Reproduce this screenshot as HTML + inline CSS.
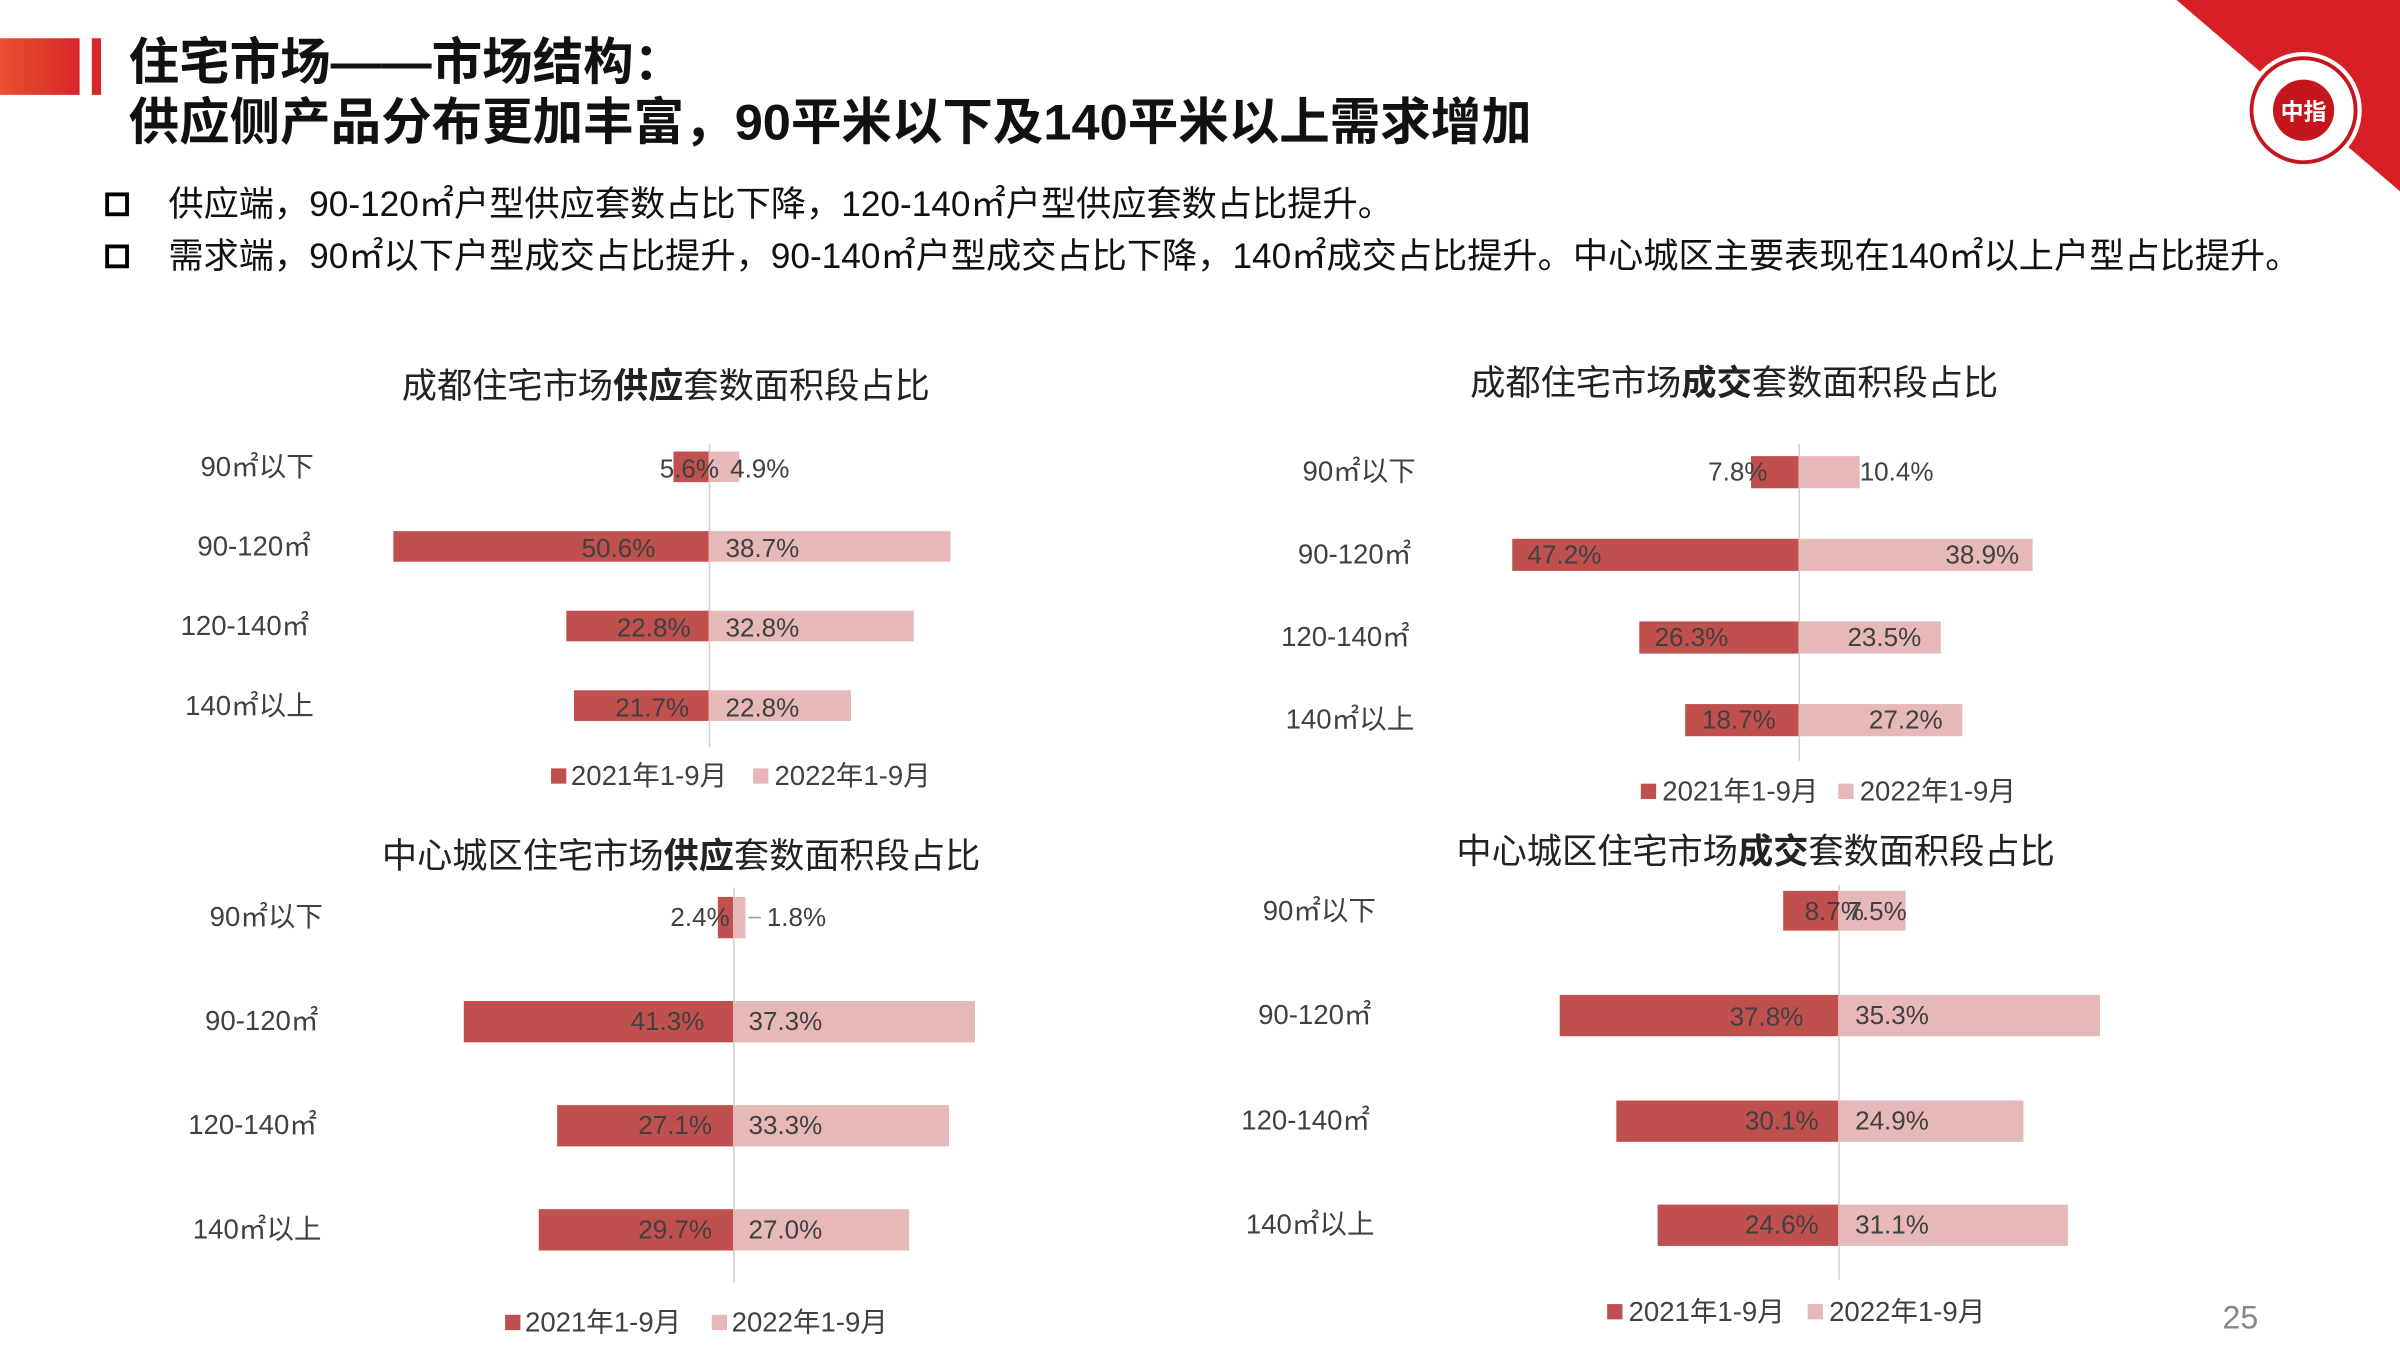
<!DOCTYPE html>
<html><head><meta charset="utf-8"><style>
html,body{margin:0;padding:0;background:#fff;width:2400px;height:1350px;overflow:hidden}
#s{position:absolute;left:0;top:0;width:1568px;height:882px;transform:scale(1.53061);transform-origin:0 0;font-family:"Liberation Sans","Noto Sans CJK SC",sans-serif;color:#404040}
#s div{position:absolute;white-space:nowrap}
.d{background:#c0504d}.l{background:#e6b9b8}
.t{font-size:17px;line-height:24px;color:#404040}
.c{font-size:18px;line-height:24px;color:#404040;text-align:center;width:120px}
.h{font-size:23px;color:#222;text-align:center;width:500px;line-height:30px}
.ax{width:1px;background:#d0d0d0}
.sq{width:10px;height:10px}
</style></head><body><div id="s">
<svg style="position:absolute;left:0;top:0" width="1568" height="882">
<defs><linearGradient id="g" x1="0" x2="1"><stop offset="0" stop-color="#e8502e"/><stop offset="1" stop-color="#d7262a"/></linearGradient></defs>
<rect x="0" y="25" width="52" height="37" fill="url(#g)"/>
<rect x="60" y="25" width="6" height="37" fill="#d7262a"/>
<polygon points="1422,0 1568,0 1568,125" fill="#d91f26"/>
<circle cx="1505" cy="72" r="38" fill="#fff"/>
<circle cx="1505" cy="72" r="34" fill="none" stroke="#c4161c" stroke-width="2.5"/>
<circle cx="1505" cy="72" r="20" fill="#c4161c"/>
<text x="1505" y="78" font-size="15" fill="#fff" text-anchor="middle" font-family="Noto Sans CJK SC" font-weight="bold">中指</text>
<rect x="70" y="127" width="13" height="13" fill="none" stroke="#000" stroke-width="2.5"/>
<rect x="70" y="161" width="13" height="13" fill="none" stroke="#000" stroke-width="2.5"/>
</svg>
<div style="left:84px;top:20px;font-size:33px;font-weight:bold;color:#111;line-height:42px">住宅市场——市场结构：</div>
<div style="left:84px;top:59px;font-size:33px;font-weight:bold;color:#111;line-height:42px">供应侧产品分布更加丰富，90平米以下及140平米以上需求增加</div>
<div style="left:110px;top:119px;font-size:23px;color:#111;line-height:28px">供应端，90-120㎡户型供应套数占比下降，120-140㎡户型供应套数占比提升。</div>
<div style="left:110px;top:153px;font-size:23px;color:#111;line-height:28px">需求端，90㎡以下户型成交占比提升，90-140㎡户型成交占比下降，140㎡成交占比提升。中心城区主要表现在140㎡以上户型占比提升。</div>

<!-- Chart 1 -->
<div class="h" style="left:185px;top:237px">成都住宅市场<b>供应</b>套数面积段占比</div>
<div class="ax" style="left:463px;top:290px;height:198px"></div>
<div class="c" style="left:108px;top:293px">90㎡以下</div>
<div class="c" style="left:106px;top:345px">90-120㎡</div>
<div class="c" style="left:100px;top:397px">120-140㎡</div>
<div class="c" style="left:103px;top:449px">140㎡以上</div>
<div class="d" style="left:440px;top:295px;width:23px;height:20px"></div><div class="l" style="left:463px;top:295px;width:20px;height:20px"></div>
<div class="d" style="left:257px;top:347px;width:206px;height:20px"></div><div class="l" style="left:463px;top:347px;width:158px;height:20px"></div>
<div class="d" style="left:370px;top:399px;width:93px;height:20px"></div><div class="l" style="left:463px;top:399px;width:134px;height:20px"></div>
<div class="d" style="left:375px;top:451px;width:88px;height:20px"></div><div class="l" style="left:463px;top:451px;width:93px;height:20px"></div>
<div class="t" style="left:431px;top:295px">5.6%</div><div class="t" style="left:477px;top:295px">4.9%</div>
<div class="t" style="left:380px;top:347px">50.6%</div><div class="t" style="left:474px;top:347px">38.7%</div>
<div class="t" style="left:403px;top:399px">22.8%</div><div class="t" style="left:474px;top:399px">32.8%</div>
<div class="t" style="left:402px;top:451px">21.7%</div><div class="t" style="left:474px;top:451px">22.8%</div>
<div class="sq d" style="left:360px;top:502px"></div><div class="t" style="left:373px;top:495px;font-size:18px">2021年1-9月</div>
<div class="sq l" style="left:492px;top:502px"></div><div class="t" style="left:506px;top:495px;font-size:18px">2022年1-9月</div>

<!-- Chart 2 -->
<div class="h" style="left:883px;top:235px">成都住宅市场<b>成交</b>套数面积段占比</div>
<div class="ax" style="left:1175px;top:290px;height:207px"></div>
<div class="c" style="left:828px;top:296px">90㎡以下</div>
<div class="c" style="left:825px;top:350px">90-120㎡</div>
<div class="c" style="left:819px;top:404px">120-140㎡</div>
<div class="c" style="left:822px;top:458px">140㎡以上</div>
<div class="d" style="left:1144px;top:298px;width:31px;height:21px"></div><div class="l" style="left:1175px;top:298px;width:40px;height:21px"></div>
<div class="d" style="left:988px;top:352px;width:187px;height:21px"></div><div class="l" style="left:1175px;top:352px;width:153px;height:21px"></div>
<div class="d" style="left:1071px;top:406px;width:104px;height:21px"></div><div class="l" style="left:1175px;top:406px;width:93px;height:21px"></div>
<div class="d" style="left:1101px;top:460px;width:74px;height:21px"></div><div class="l" style="left:1175px;top:460px;width:107px;height:21px"></div>
<div class="t" style="left:1116px;top:297px">7.8%</div><div class="t" style="left:1215px;top:297px">10.4%</div>
<div class="t" style="left:998px;top:351px">47.2%</div><div class="t" style="left:1271px;top:351px">38.9%</div>
<div class="t" style="left:1081px;top:405px">26.3%</div><div class="t" style="left:1207px;top:405px">23.5%</div>
<div class="t" style="left:1112px;top:459px">18.7%</div><div class="t" style="left:1221px;top:459px">27.2%</div>
<div class="sq d" style="left:1072px;top:512px"></div><div class="t" style="left:1086px;top:505px;font-size:18px">2021年1-9月</div>
<div class="sq l" style="left:1201px;top:512px"></div><div class="t" style="left:1215px;top:505px;font-size:18px">2022年1-9月</div>

<!-- Chart 3 -->
<div class="h" style="left:195px;top:544px">中心城区住宅市场<b>供应</b>套数面积段占比</div>
<div class="ax" style="left:479px;top:580px;height:258px"></div>
<div class="c" style="left:114px;top:587px">90㎡以下</div>
<div class="c" style="left:111px;top:655px">90-120㎡</div>
<div class="c" style="left:105px;top:723px">120-140㎡</div>
<div class="c" style="left:108px;top:791px">140㎡以上</div>
<div class="d" style="left:469px;top:586px;width:10px;height:27px"></div><div class="l" style="left:479px;top:586px;width:8px;height:27px"></div>
<div class="d" style="left:303px;top:654px;width:176px;height:27px"></div><div class="l" style="left:479px;top:654px;width:158px;height:27px"></div>
<div class="d" style="left:364px;top:722px;width:115px;height:27px"></div><div class="l" style="left:479px;top:722px;width:141px;height:27px"></div>
<div class="d" style="left:352px;top:790px;width:127px;height:27px"></div><div class="l" style="left:479px;top:790px;width:115px;height:27px"></div>
<div class="t" style="left:438px;top:588px">2.4%</div><div style="left:489px;top:599px;width:8px;height:1px;background:#999"></div><div class="t" style="left:501px;top:588px">1.8%</div>
<div class="t" style="left:412px;top:656px">41.3%</div><div class="t" style="left:489px;top:656px">37.3%</div>
<div class="t" style="left:417px;top:724px">27.1%</div><div class="t" style="left:489px;top:724px">33.3%</div>
<div class="t" style="left:417px;top:792px">29.7%</div><div class="t" style="left:489px;top:792px">27.0%</div>
<div class="sq l" style="left:465px;top:859px"></div><div class="t" style="left:478px;top:852px;font-size:18px">2022年1-9月</div>
<div class="sq d" style="left:330px;top:859px"></div><div class="t" style="left:343px;top:852px;font-size:18px">2021年1-9月</div>

<!-- Chart 4 -->
<div class="h" style="left:897px;top:541px">中心城区住宅市场<b>成交</b>套数面积段占比</div>
<div class="ax" style="left:1201px;top:578px;height:258px"></div>
<div class="c" style="left:802px;top:583px">90㎡以下</div>
<div class="c" style="left:799px;top:651px">90-120㎡</div>
<div class="c" style="left:793px;top:720px">120-140㎡</div>
<div class="c" style="left:796px;top:788px">140㎡以上</div>
<div class="d" style="left:1165px;top:582px;width:36px;height:26px"></div><div class="l" style="left:1201px;top:582px;width:44px;height:26px"></div>
<div class="d" style="left:1019px;top:650px;width:182px;height:27px"></div><div class="l" style="left:1201px;top:650px;width:171px;height:27px"></div>
<div class="d" style="left:1056px;top:719px;width:145px;height:27px"></div><div class="l" style="left:1201px;top:719px;width:121px;height:27px"></div>
<div class="d" style="left:1083px;top:787px;width:118px;height:27px"></div><div class="l" style="left:1201px;top:787px;width:150px;height:27px"></div>
<div class="t" style="left:1179px;top:584px">8.7%</div><div class="t" style="left:1207px;top:584px">7.5%</div>
<div class="t" style="left:1130px;top:653px">37.8%</div><div class="t" style="left:1212px;top:652px">35.3%</div>
<div class="t" style="left:1140px;top:721px">30.1%</div><div class="t" style="left:1212px;top:721px">24.9%</div>
<div class="t" style="left:1140px;top:789px">24.6%</div><div class="t" style="left:1212px;top:789px">31.1%</div>
<div class="sq d" style="left:1050px;top:852px"></div><div class="t" style="left:1064px;top:845px;font-size:18px">2021年1-9月</div>
<div class="sq l" style="left:1181px;top:852px"></div><div class="t" style="left:1195px;top:845px;font-size:18px">2022年1-9月</div>

<div style="left:1452px;top:849px;font-size:21px;color:#888;line-height:26px">25</div>
</div></body></html>
